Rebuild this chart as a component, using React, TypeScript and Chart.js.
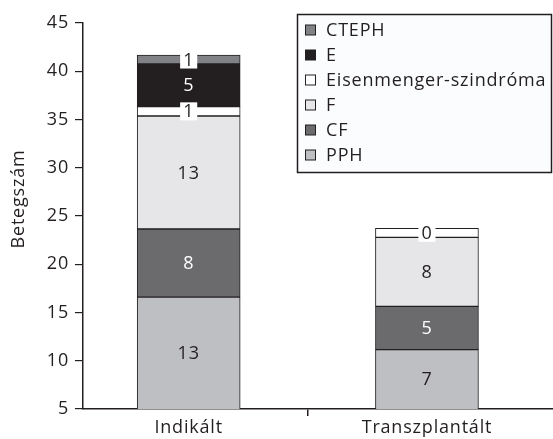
import React, { useEffect, useRef } from 'react';
import { Chart, registerables } from 'chart.js';

Chart.register(...registerables);

// ---- data ----
const categories = ['Indikált', 'Transzplantált'];
const seriesNames = ['PPH', 'CF', 'F', 'Eisenmenger-szindróma', 'E', 'CTEPH'];
// segment extents as they sit on the drawn axis (axis starts at 5; PPH = top of first segment)
const pphValues = [16.6, 11.15];
const cfValues = [7.05, 4.49];
const fValues = [11.71, 7.15];
const eisValues = [0.97, 0.93];
const eValues = [4.42, 0];
const ctephValues = [0.93, 0];
// numbers printed inside the segments
const pphCounts = [13, 7];
const cfCounts = [8, 5];
const fCounts = [13, 8];
const eisCounts = [1, 0];
const eCounts = [5, null];
const ctephCounts = [1, null];
const yMin = 5;
const yMax = 45;
const yStep = 5;
const yTitle = 'Betegszám';

const seriesValues = [pphValues, cfValues, fValues, eisValues, eValues, ctephValues];
const seriesCounts = [pphCounts, cfCounts, fCounts, eisCounts, eCounts, ctephCounts];
const seriesColors = ['#bebfc2', '#6b6b6e', '#e6e6e8', '#ffffff', '#231f20', '#818285'];
const labelColors = ['#231f20', '#ffffff', '#231f20', '#231f20', '#ffffff', '#231f20'];

const FONT = '"Open Sans", sans-serif';
const FS = 18;
const LS = '0.8px';
const INK = '#231f20';

export default function App() {
  const ref = useRef<HTMLCanvasElement | null>(null);

  useEffect(() => {
    document.body.style.margin = '0';
    const canvas = ref.current!;
    const labelPlugin = {
      id: 'segLabels',
      beforeDraw(chart: any) {
        chart.ctx.letterSpacing = LS;
      },
      afterDatasetsDraw(chart: any) {
        const ctx = chart.ctx;
        const area = chart.chartArea;
        ctx.save();
        ctx.font = `${FS}px ${FONT}`;
        ctx.textAlign = 'center';
        ctx.textBaseline = 'middle';
        chart.data.datasets.forEach((ds: any, di: number) => {
          const meta = chart.getDatasetMeta(di);
          meta.data.forEach((bar: any, i: number) => {
            const c = seriesCounts[di][i];
            if (c === null || c === undefined) return;
            const p = bar.getProps(['x', 'y', 'base'], true);
            const bottom = Math.min(p.base, area.bottom);
            const top = Math.max(p.y, area.top);
            const cy = (top + bottom) / 2;
            const txt = String(c);
            if (bottom - top < 16) {
              const w = ctx.measureText(txt).width + 6;
              ctx.fillStyle = '#ffffff';
              ctx.fillRect(p.x - w / 2, cy - 9, w, 18);
            }
            ctx.fillStyle = labelColors[di];
            ctx.fillText(txt, p.x, cy + 1);
          });
        });
        ctx.restore();
      },
      afterDraw(chart: any) {
        const ctx = chart.ctx;
        ctx.save();
        // y title
        ctx.font = `${FS}px ${FONT}`;
        ctx.fillStyle = INK;
        ctx.textAlign = 'center';
        ctx.textBaseline = 'middle';
        ctx.translate(19, 199);
        ctx.rotate(-Math.PI / 2);
        ctx.fillText(yTitle, 0, 0);
        ctx.restore();

        // legend box
        ctx.save();
        ctx.fillStyle = '#fbfcfe';
        ctx.strokeStyle = INK;
        ctx.lineWidth = 1.5;
        ctx.fillRect(297.5, 14.5, 254, 158);
        ctx.strokeRect(297.5, 14.5, 254, 158);
        ctx.font = `${FS}px ${FONT}`;
        ctx.textBaseline = 'middle';
        ctx.textAlign = 'left';
        const n = seriesNames.length;
        for (let k = 0; k < n; k++) {
          const di = n - 1 - k;
          const cy = 30 + k * 25;
          ctx.fillStyle = seriesColors[di];
          ctx.fillRect(305.5, cy - 5, 10, 10);
          ctx.lineWidth = 1;
          ctx.strokeStyle = INK;
          ctx.strokeRect(305.5, cy - 5, 10, 10);
          ctx.fillStyle = INK;
          ctx.fillText(seriesNames[di], 326, cy + 1);
        }
        ctx.restore();
      },
    };

    const chart = new Chart(canvas, {
      type: 'bar',
      data: {
        datasets: seriesNames.map((name, di) => ({
          label: name,
          data: categories.map((_, i) => ({ x: i, y: seriesValues[di][i] })),
          backgroundColor: seriesColors[di],
          borderColor: INK,
          borderWidth: 1,
          borderSkipped: false,
          barThickness: 103,
        })),
      },
      options: {
        animation: false,
        responsive: false,
        devicePixelRatio: 1,
        layout: { padding: { top: 23, right: 0, left: 0, bottom: 0 } },
        plugins: { legend: { display: false }, tooltip: { enabled: false } },
        scales: {
          x: {
            type: 'linear',
            stacked: true,
            offset: false,
            min: -0.4435,
            max: 1.529,
            afterBuildTicks: (scale: any) => {
              scale.ticks = [{ value: 0 }, { value: 0.5 }, { value: 1 }];
            },
            afterFit: (scale: any) => {
              scale.height = 30;
            },
            ticks: {
              autoSkip: false,
              maxRotation: 0,
              padding: 1,
              color: INK,
              font: { family: FONT, size: FS },
              callback: (v: any) => (v === 0 ? categories[0] : v === 1 ? categories[1] : ''),
            },
            grid: {
              offset: false,
              drawOnChartArea: false,
              drawTicks: true,
              tickLength: 7,
              color: (c: any) => (c.tick && c.tick.value === 0.5 ? INK : 'rgba(0,0,0,0)'),
              lineWidth: 1.5,
            },
            border: { display: true, color: INK, width: 1.5 },
          },
          y: {
            stacked: true,
            min: yMin,
            max: yMax,
            afterFit: (scale: any) => {
              scale.width = 83;
            },
            ticks: {
              stepSize: yStep,
              padding: 6,
              color: INK,
              font: { family: FONT, size: FS },
            },
            grid: {
              drawOnChartArea: false,
              drawTicks: true,
              tickLength: 8,
              color: INK,
              lineWidth: 1.2,
            },
            border: { display: true, color: INK, width: 1.5 },
          },
        },
      },
      plugins: [labelPlugin],
    } as any);
    return () => chart.destroy();
  }, []);

  return (
    <div style={{ position: 'absolute', left: 0, top: 0, width: 553, height: 439 }}>
      <canvas ref={ref} width={553} height={439} style={{ width: 553, height: 439, display: 'block' }} />
    </div>
  );
}
